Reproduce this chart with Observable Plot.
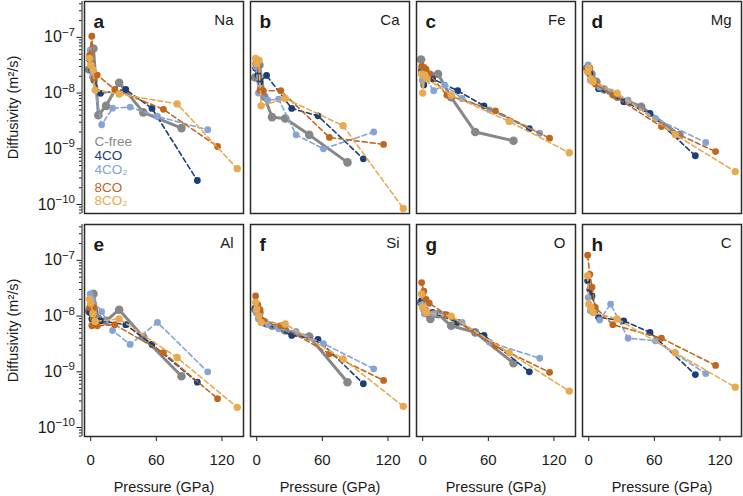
<!DOCTYPE html>
<html>
<head>
<meta charset="utf-8">
<script src="https://cdn.jsdelivr.net/npm/d3@7"></script>
<script src="https://cdn.jsdelivr.net/npm/@observablehq/plot@0.6"></script>
<style>
  html, body { margin: 0; padding: 0; background: #fff; }
  #chart { width: 743px; height: 496px; }
</style>
</head>
<body>
<div id="chart"></div>
<script>
// ---------- data ----------
const elements = ["Na", "Ca", "Fe", "Mg", "Al", "Si", "O", "C"];
const letters = ["a", "b", "c", "d", "e", "f", "g", "h"];
const seriesNames = ["C-free", "4CO", "4CO\u2082", "8CO", "8CO\u2082"];
const seriesColors = ["#878787", "#1b3f78", "#86a3d4", "#c0671f", "#e8aa50"];

// pressures (GPa) per composition
const pCfree = [-1.5, 2.5, 7, 14, 26, 48, 83];
const p4CO = [-1, 1, 3, 9, 32, 56, 97.5];
const p4CO2 = [-0.5, 1.5, 10, 20, 36, 61, 107];
const p8CO = [-1, 1, 3, 6, 22, 66.5, 116];
const p8CO2 = [-1, 0, 2, 4, 26, 79, 134];

// diffusivities (m^2/s): [C-free, 4CO, 4CO2, 8CO, 8CO2]
const dNa = [
  [2.65e-8, 6.3e-8, 4.0e-9, 5.9e-9, 1.53e-8, 4.5e-9, 2.35e-9],
  [4.0e-8, 2.6e-8, 1.7e-8, 9.9e-9, 1.16e-8, 5.3e-9, 2.7e-10],
  [5.9e-8, 1.95e-8, 2.7e-9, 5.35e-9, 5.6e-9, 3.8e-9, 2.2e-9],
  [4.8e-8, 1.05e-7, 1.8e-8, 2.1e-8, 1.16e-8, 5.1e-9, 1.1e-9],
  [4.2e-8, 3.2e-8, 2.6e-8, 1.13e-8, 9.6e-9, 6.4e-9, 4.4e-10]
];
const dCa = [
  [1.9e-8, 3.2e-8, 8.6e-9, 3.7e-9, 3.5e-9, 1.78e-9, 5.7e-10],
  [2.8e-8, 2.1e-8, 1.6e-8, 2.07e-8, 5.3e-9, 3.9e-9, 6.6e-10],
  [2.95e-8, 1.0e-8, 7.5e-9, 7.8e-9, 1.78e-9, 1.0e-9, 2.0e-9],
  [3.4e-8, 3.6e-8, 1.13e-8, 1.1e-8, 1.1e-8, 1.6e-9, 1.2e-9],
  [4.2e-8, 3.4e-8, 3.9e-8, 5.9e-9, 8.0e-9, 2.6e-9, 8.5e-11]
];
const dFe = [
  [4.0e-8, 2.4e-8, 2.1e-8, 2.2e-8, 8.4e-9, 2.0e-9, 1.39e-9],
  [2.6e-8, 1.4e-8, 1.8e-8, 1.8e-8, 1.1e-8, 5.9e-9, 2.3e-9],
  [1.7e-8, 2.0e-8, 1.1e-8, 1.4e-8, 8.0e-9, 5.0e-9, 1.9e-9],
  [3.0e-8, 2.9e-8, 2.7e-8, 2.2e-8, 9.2e-9, 4.8e-9, 1.55e-9],
  [2.2e-8, 1.0e-8, 2.1e-8, 1.8e-8, 9.2e-9, 3.1e-9, 8.5e-10]
];
const dMg = [
  [2.8e-8, 2.2e-8, 1.6e-8, 1.16e-8, 8.6e-9, 5.7e-9, 1.78e-9],
  [2.6e-8, 2.2e-8, 1.7e-8, 1.2e-8, 7.0e-9, 4.3e-9, 7.5e-10],
  [3.2e-8, 1.7e-8, 1.27e-8, 1.05e-8, 7.5e-9, 3.5e-9, 1.3e-9],
  [2.6e-8, 2.8e-8, 1.8e-8, 1.45e-8, 9.2e-9, 2.5e-9, 8.9e-10],
  [2.4e-8, 2.8e-8, 1.8e-8, 1.6e-8, 1.0e-8, 1.8e-9, 3.9e-10]
];
const dAl = [
  [1.24e-8, 2.5e-8, 8.9e-9, 8.2e-9, 1.3e-8, 4.2e-9, 8.3e-10],
  [1.16e-8, 8.9e-9, 8.2e-9, 8.2e-9, 7.0e-9, 3.1e-9, 6.5e-10],
  [2.5e-8, 2.0e-8, 1.2e-8, 5.5e-9, 3.1e-9, 7.7e-9, 1.0e-9],
  [1.43e-8, 6.7e-9, 1.4e-8, 6.7e-9, 7.0e-9, 2.2e-9, 3.3e-10],
  [2.0e-8, 1.7e-8, 1.1e-8, 8.0e-9, 8.9e-9, 1.8e-9, 2.3e-10]
];
const dSi = [
  [1.33e-8, 1.16e-8, 7.7e-9, 6.7e-9, 5.5e-9, 4.3e-9, 6.5e-10],
  [1.43e-8, 1.1e-8, 8.9e-9, 7.2e-9, 4.5e-9, 3.8e-9, 6.1e-10],
  [1.16e-8, 9.0e-9, 7.2e-9, 5.9e-9, 5.3e-9, 3.2e-9, 1.13e-9],
  [2.3e-8, 1.6e-8, 1.3e-8, 8.2e-9, 6.7e-9, 2.1e-9, 7.0e-10],
  [1.75e-8, 1.33e-8, 1.0e-8, 7.7e-9, 7.2e-9, 1.7e-9, 2.4e-10]
];
const dO = [
  [1.75e-8, 1.24e-8, 8.9e-9, 1.08e-8, 6.7e-9, 5.1e-9, 1.43e-9],
  [1.9e-8, 1.3e-8, 1.1e-8, 1.16e-8, 7.7e-9, 4.5e-9, 1.0e-9],
  [1.6e-8, 1.1e-8, 1.1e-8, 1.08e-8, 7.7e-9, 3.4e-9, 1.75e-9],
  [4.0e-8, 2.8e-8, 2.0e-8, 1.7e-8, 1.05e-8, 2.9e-9, 9.8e-10],
  [2.5e-8, 1.43e-8, 1.24e-8, 1.15e-8, 1.0e-8, 2.2e-9, 4.5e-10]
];
const dC = [
  [],
  [4.3e-8, 3.0e-8, 2.3e-8, 9.5e-9, 8.2e-9, 5.1e-9, 8.9e-10],
  [2.15e-8, 1.24e-8, 8.5e-9, 1.64e-8, 4.0e-9, 3.6e-9, 9.3e-10],
  [1.24e-7, 5.6e-8, 3.3e-8, 1.43e-8, 7.0e-9, 4.0e-9, 1.3e-9],
  [5.3e-8, 1.64e-8, 1.43e-8, 1.16e-8, 8.9e-9, 2.2e-9, 5.3e-10]
];

const xTicks = [0, 60, 120];
const yMajor = [1e-10, 1e-9, 1e-8, 1e-7];
const yExponents = ["\u221210", "\u22129", "\u22128", "\u22127"];
const yMinorMult = [2, 3, 4, 5, 6, 7, 8, 9];
const yTitle = "Diffusivity (m\u00B2/s)";
const xTitle = "Pressure (GPa)";

// ---------- build table ----------
const pressures = [pCfree, p4CO, p4CO2, p8CO, p8CO2];
const dByElement = [dNa, dCa, dFe, dMg, dAl, dSi, dO, dC];
const rows = [];
elements.forEach((el, i) => {
  dByElement[i].forEach((vals, j) => {
    vals.forEach((d, k) => {
      rows.push({el, col: i % 4, row: Math.floor(i / 4), s: j, P: pressures[j][k], D: d});
    });
  });
});
const panels = elements.map((el, i) => ({el, letter: letters[i], col: i % 4, row: Math.floor(i / 4)}));

const xDomain = [-5.7, 139.7];
const yDomain = [6.9e-11, 4.4e-7];
const yMid = Math.sqrt(yDomain[0] * yDomain[1]);
const yMinor = [];
[1e-11, 1e-10, 1e-9, 1e-8, 1e-7].forEach(dec => yMinorMult.forEach(m => {
  const v = dec * m;
  if (v >= yDomain[0] && v <= yDomain[1]) yMinor.push(v);
}));

const font = "'Liberation Sans', Arial, Helvetica, sans-serif";
const ink = "#1a1a1a";

const marks = [];
marks.push(Plot.ruleX(panels.filter(p => p.col === 0), {x: () => xDomain[0], fx: "col", fy: "row", dx: -2.5, stroke: ink, strokeWidth: 1}));
marks.push(Plot.axisY(yMinor, {anchor: "left", tickSize: 2.5, tickFormat: () => "", dx: -2.5, stroke: ink, label: null}));
marks.push(Plot.axisY(yMajor, {anchor: "left", tickSize: 5, tickPadding: 2, dx: -2.5, stroke: ink, fill: ink,
  tickFormat: d => "10" + yExponents[yMajor.indexOf(d)], fontSize: 16, label: null}));
marks.push(Plot.axisX(xTicks, {anchor: "bottom", tickSize: 5, tickPadding: 13, stroke: ink, fill: ink, fontSize: 15, label: null}));

seriesNames.forEach((name, j) => {
  const data = rows.filter(r => r.s === j);
  marks.push(Plot.line(data, {
    x: "P", y: "D", fx: "col", fy: "row",
    stroke: seriesColors[j],
    strokeWidth: j === 0 ? 3 : 1.6,
    strokeDasharray: j === 0 ? undefined : "5,3",
    strokeLinejoin: "round"
  }));
  marks.push(Plot.dot(data, {
    x: "P", y: "D", fx: "col", fy: "row",
    fill: seriesColors[j], r: j === 0 ? 4.3 : (j === 4 ? 3.7 : 3.4)
  }));
});

marks.push(Plot.text(panels, {text: "letter", fx: "col", fy: "row", frameAnchor: "top-left", dx: 9, dy: 12.5,
  lineAnchor: "top", textAnchor: "start", fontSize: 19, fontWeight: "bold", fill: ink}));
marks.push(Plot.text(panels, {text: "el", fx: "col", fy: "row", frameAnchor: "top-right", dx: -10, dy: 13,
  lineAnchor: "top", textAnchor: "end", fontSize: 15, fill: ink}));

marks.push(Plot.text(panels.filter(p => p.row === 1), {text: () => xTitle, fx: "col", fy: "row",
  frameAnchor: "bottom", dy: 51, lineAnchor: "middle", textAnchor: "middle", fontSize: 14.5, fill: ink}));
marks.push(Plot.text(panels.filter(p => p.col === 0), {text: () => yTitle, fx: "col", fy: "row",
  x: () => xDomain[0], y: () => yMid, dx: -71, rotate: -90, lineAnchor: "middle", textAnchor: "middle",
  fontSize: 14.5, fill: ink}));

const legendDy = [-71.5, -57.5, -43.5, -26, -12.5];
seriesNames.forEach((name, j) => {
  marks.push(Plot.text([name], {text: d => d, fx: () => 0, fy: () => 0, frameAnchor: "bottom-left",
    dx: 10, dy: legendDy[j], textAnchor: "start", lineAnchor: "middle", fontSize: 13.5, fill: seriesColors[j]}));
});

marks.push(Plot.frame({stroke: "#2a2a2a", strokeWidth: 1.5}));

const chart = Plot.plot({
  width: 743,
  height: 496,
  marginLeft: 83,
  marginRight: 1,
  marginTop: 1,
  marginBottom: 60,
  style: {fontFamily: font, background: "#fff", color: ink},
  fx: {domain: [0, 1, 2, 3], paddingInner: 0.04, paddingOuter: 0, axis: null},
  fy: {domain: [0, 1], paddingInner: 0.05, paddingOuter: 0, axis: null},
  x: {domain: xDomain, axis: null},
  y: {type: "log", domain: yDomain, axis: null},
  marks
});

// raised exponent for the y tick labels (still real text)
const ns = "http://www.w3.org/2000/svg";
const expLabels = yExponents.map(e => "10" + e);
chart.querySelectorAll("text").forEach(t => {
  const idx = expLabels.indexOf(t.textContent);
  if (idx < 0) return;
  t.textContent = "";
  const base = document.createElementNS(ns, "tspan");
  base.textContent = "10";
  const sup = document.createElementNS(ns, "tspan");
  sup.textContent = yExponents[idx];
  sup.setAttribute("dy", "-6.5");
  sup.setAttribute("font-size", "11.5");
  t.appendChild(base);
  t.appendChild(sup);
});

document.getElementById("chart").appendChild(chart);

// make sure each rotated y title is centred on its row of panels
const frames = Array.from(chart.querySelectorAll("rect")).filter(r => r.getAttribute("aria-label") === "frame" ||
  (r.parentNode && r.parentNode.getAttribute && r.parentNode.getAttribute("aria-label") === "frame"));
const frameRects = frames.map(r => r.getBoundingClientRect()).filter(b => b.width > 50);
const rowCenters = Array.from(new Set(frameRects.map(b => Math.round((b.top + b.bottom) / 2)))).sort((a, b) => a - b);
const titles = Array.from(chart.querySelectorAll("text")).filter(t => t.textContent === yTitle);
titles.sort((a, b) => a.getBoundingClientRect().top - b.getBoundingClientRect().top);
const svgTop = chart.getBoundingClientRect().top;
titles.forEach((t, i) => {
  const want = rowCenters.length === titles.length ? rowCenters[i] : svgTop + [107, 330][i];
  const b = t.getBoundingClientRect();
  const delta = want - (b.top + b.bottom) / 2;
  if (Math.abs(delta) > 0.5) {
    t.setAttribute("transform", `translate(0,${delta}) ` + (t.getAttribute("transform") || ""));
  }
});
</script>
</body>
</html>
